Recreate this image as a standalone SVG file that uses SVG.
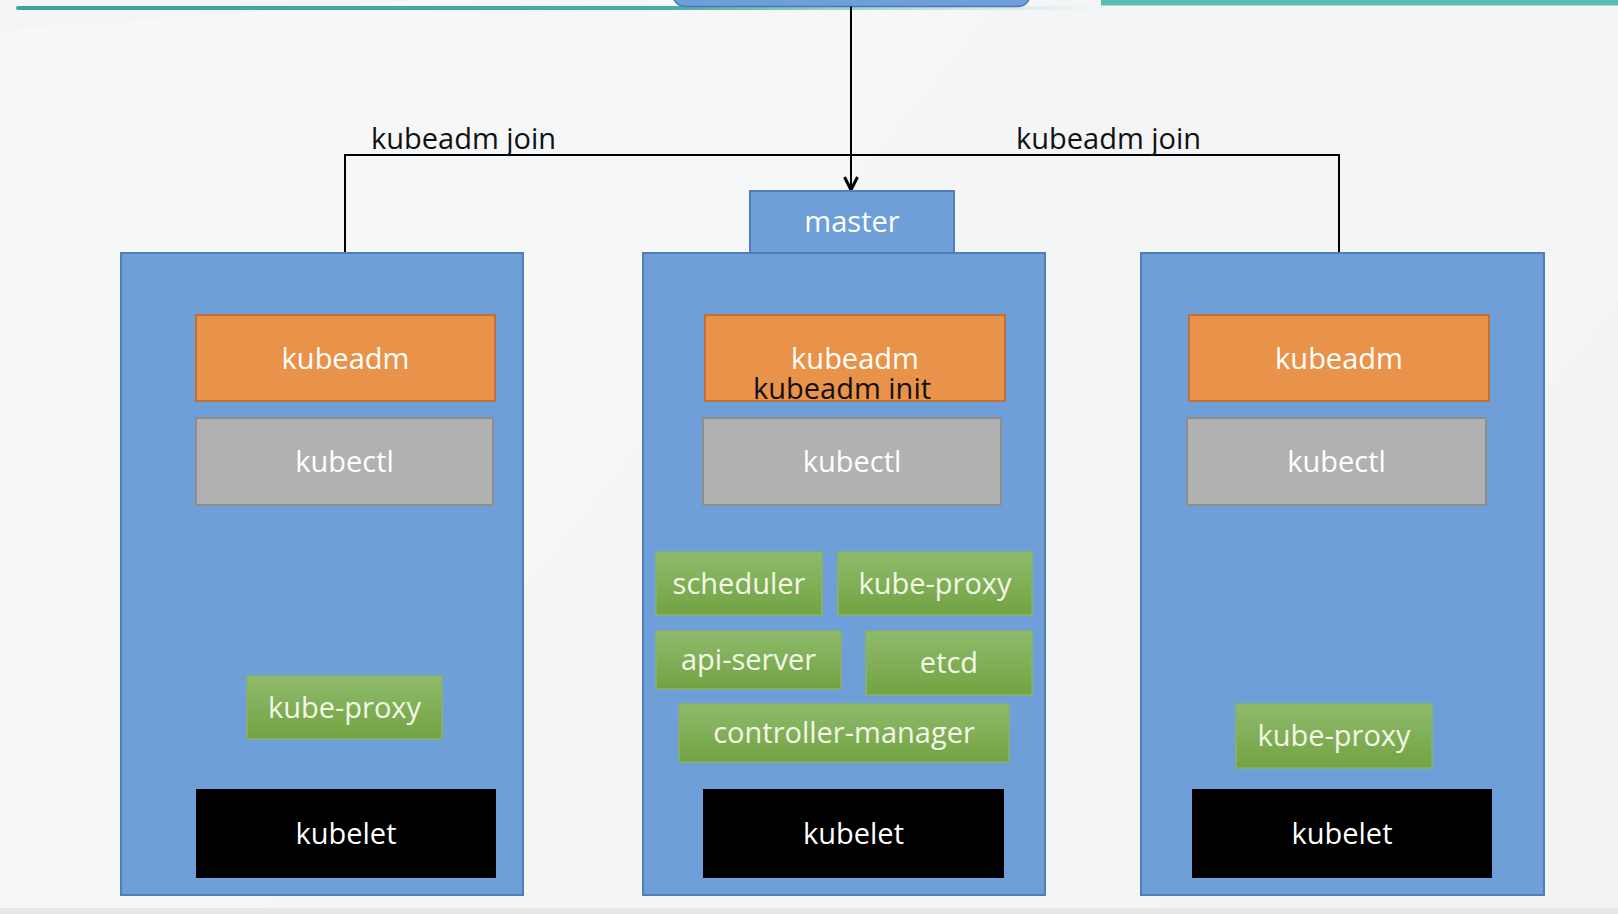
<svg xmlns="http://www.w3.org/2000/svg" width="1618" height="914" viewBox="0 0 1618 914">
  <defs>
    <linearGradient id="gGreen" x1="0" y1="0" x2="0" y2="1">
      <stop offset="0" stop-color="#8fbb6c"/>
      <stop offset="1" stop-color="#73a242"/>
    </linearGradient>
    <linearGradient id="gTeal" gradientUnits="userSpaceOnUse" x1="16" y1="0" x2="1100" y2="0">
      <stop offset="0" stop-color="#3fa39d" stop-opacity="1"/>
      <stop offset="0.6" stop-color="#4aaaa4" stop-opacity="1"/>
      <stop offset="1" stop-color="#7cc9c3" stop-opacity="0"/>
    </linearGradient>
    <marker id="arrow" viewBox="0 0 16 16" refX="14" refY="8" markerWidth="16" markerHeight="16" markerUnits="userSpaceOnUse" orient="auto">
      <path d="M1,1.5 L14,8 L1,14.5" fill="none" stroke="#000" stroke-width="3"/>
    </marker>
    <style>
      .outer { fill: #6f9fd8; stroke: #4f7fb6; stroke-width: 2; }
      .adm { fill: #e9934a; stroke: #c0713a; stroke-width: 2; }
      .ctl { fill: #b1b1b1; stroke: #8d8d8d; stroke-width: 2; }
      .grn { fill: url(#gGreen); stroke: #88b566; stroke-width: 1.5; }
      .blk { fill: #000000; }
      .lbl { font-family: "Open Sans", "Noto Sans", "Liberation Sans", sans-serif; font-size: 29px; text-anchor: middle; fill: #ffffff; }
      .lblg { font-family: "Open Sans", "Noto Sans", "Liberation Sans", sans-serif; font-size: 29px; text-anchor: middle; fill: #f4f8e8; }
      .dark { font-family: "Open Sans", "Noto Sans", "Liberation Sans", sans-serif; font-size: 29px; fill: #111111; }
      .conn { fill: none; stroke: #000000; stroke-width: 2; }
    </style>
  </defs>

  <!-- background -->
  <rect x="0" y="0" width="1618" height="914" fill="#f4f5f6"/>
  <polygon points="0,30 420,0 1000,0 260,914 0,914" fill="#f6f7f8"/>
  <polygon points="1150,914 1618,300 1618,914" fill="#f2f3f4"/>
  <rect x="0" y="908" width="1618" height="6" fill="#e6e7e8"/>

  <!-- top decoration -->
  <rect x="16" y="6" width="1084" height="4" rx="2" fill="url(#gTeal)"/>
  <rect x="673" y="-20" width="357" height="26.5" rx="12" fill="#6f9fd8" stroke="#4a78b0" stroke-width="1.5"/>
  <rect x="1101" y="0" width="517" height="5.5" fill="#5bbcb4"/>

  <!-- connectors -->
  <g id="connectors">
    <path class="conn" d="M851,6.5 L851,190" marker-end="url(#arrow)"/>
    <path class="conn" d="M345,315 L345,155 L1339,155 L1339,315"/>
    <text class="dark" x="371" y="149">kubeadm join</text>
    <text class="dark" x="1016" y="149">kubeadm join</text>
  </g>

  <!-- left worker node -->
  <g id="node-left">
    <rect class="outer" x="121" y="253" width="402" height="642"/>
    <g id="left-kubeadm">
      <rect class="adm" x="196" y="315" width="299" height="86"/>
      <text class="lbl" x="345.5" y="369">kubeadm</text>
    </g>
    <g id="left-kubectl">
      <rect class="ctl" x="196" y="418" width="297" height="87"/>
      <text class="lbl" x="344.5" y="472">kubectl</text>
    </g>
    <g id="left-kube-proxy">
      <rect class="grn" x="247" y="676" width="195" height="63"/>
      <text class="lblg" x="344.5" y="718">kube-proxy</text>
    </g>
    <g id="left-kubelet">
      <rect class="blk" x="196" y="789" width="300" height="89"/>
      <text class="lbl" x="346" y="844">kubelet</text>
    </g>
  </g>

  <!-- master node -->
  <g id="node-master">
    <rect class="outer" x="750" y="191" width="204" height="62"/>
    <text class="lbl" x="852" y="232">master</text>
    <rect class="outer" x="643" y="253" width="402" height="642"/>
    <g id="master-kubeadm">
      <rect class="adm" x="705" y="315" width="300" height="86"/>
      <text class="lbl" x="855" y="369">kubeadm</text>
      <text class="dark" x="753" y="399">kubeadm init</text>
    </g>
    <g id="master-kubectl">
      <rect class="ctl" x="703" y="418" width="298" height="87"/>
      <text class="lbl" x="852" y="472">kubectl</text>
    </g>
    <g id="master-scheduler">
      <rect class="grn" x="656" y="552" width="166" height="63"/>
      <text class="lblg" x="739" y="594">scheduler</text>
    </g>
    <g id="master-kube-proxy">
      <rect class="grn" x="838" y="552" width="194" height="63"/>
      <text class="lblg" x="935" y="594">kube-proxy</text>
    </g>
    <g id="master-api-server">
      <rect class="grn" x="656" y="631" width="185" height="58"/>
      <text class="lblg" x="748.5" y="670">api-server</text>
    </g>
    <g id="master-etcd">
      <rect class="grn" x="866" y="631" width="166" height="64"/>
      <text class="lblg" x="949" y="673">etcd</text>
    </g>
    <g id="master-controller-manager">
      <rect class="grn" x="679" y="704" width="330" height="58"/>
      <text class="lblg" x="844" y="743">controller-manager</text>
    </g>
    <g id="master-kubelet">
      <rect class="blk" x="703" y="789" width="301" height="89"/>
      <text class="lbl" x="853.5" y="844">kubelet</text>
    </g>
  </g>

  <!-- right worker node -->
  <g id="node-right">
    <rect class="outer" x="1141" y="253" width="403" height="642"/>
    <g id="right-kubeadm">
      <rect class="adm" x="1189" y="315" width="300" height="86"/>
      <text class="lbl" x="1339" y="369">kubeadm</text>
    </g>
    <g id="right-kubectl">
      <rect class="ctl" x="1187" y="418" width="299" height="87"/>
      <text class="lbl" x="1336.5" y="472">kubectl</text>
    </g>
    <g id="right-kube-proxy">
      <rect class="grn" x="1236" y="704" width="196" height="64"/>
      <text class="lblg" x="1334" y="746">kube-proxy</text>
    </g>
    <g id="right-kubelet">
      <rect class="blk" x="1192" y="789" width="300" height="89"/>
      <text class="lbl" x="1342" y="844">kubelet</text>
    </g>
  </g>
</svg>
